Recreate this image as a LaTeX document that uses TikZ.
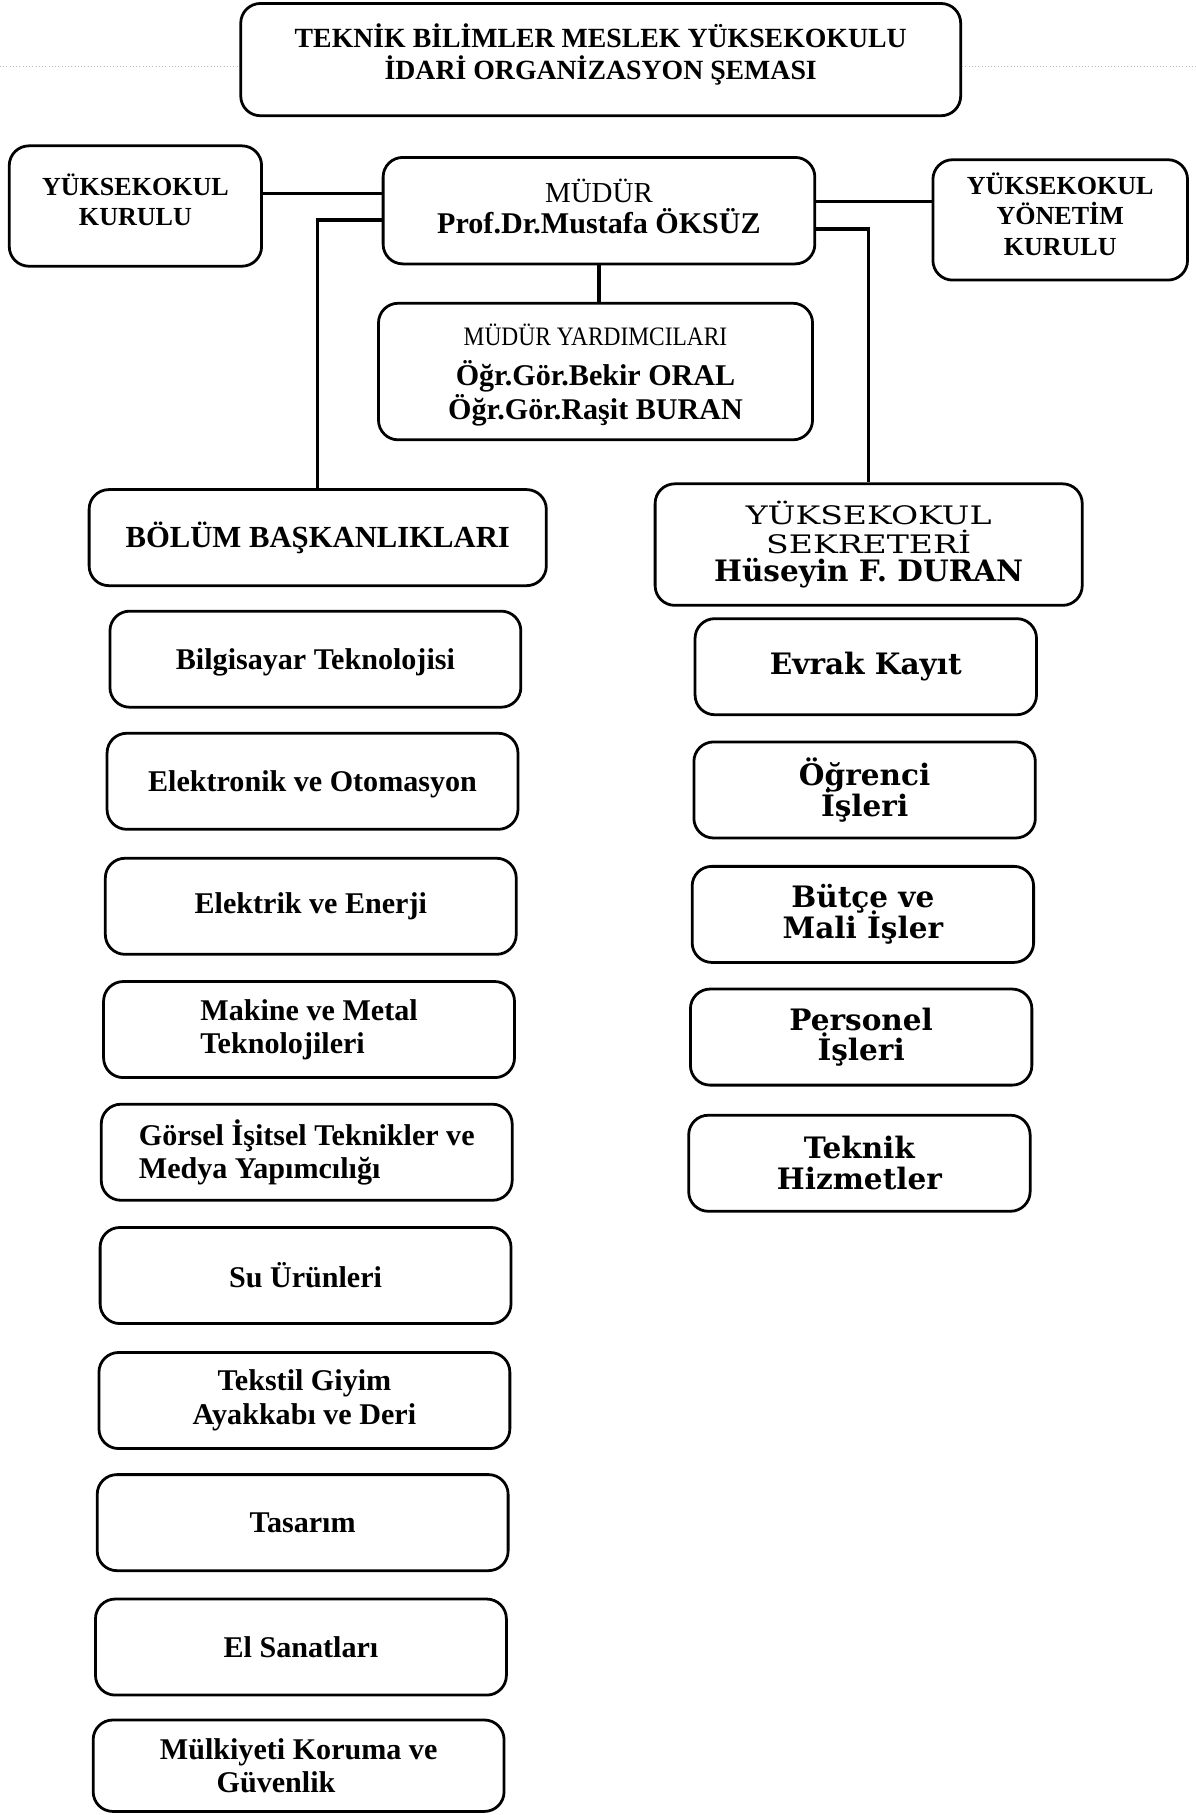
\documentclass[tikz,border=0pt]{standalone}
\usepackage{fontspec}
\setmainfont{Liberation Serif}
\newfontfamily\widefont{DejaVu Serif}
\newfontfamily\widestretch[FakeStretch=1.3]{DejaVu Serif}
\newfontfamily\narrowfont[FakeStretch=0.88]{Liberation Serif}
\newcommand\tightlines{\lineskiplimit=-20pt\relax\lineskip=0pt\relax}
\begin{document}
\begin{tikzpicture}[x=1pt,y=-1pt,
  box/.style={draw, line width=2.4pt, rounded corners=17pt, inner sep=0pt, align=center},
  lbox/.style={box, minimum width=355pt, minimum height=83pt,
     font=\bfseries\fontsize{26}{29}\selectfont},
  rbox/.style={box, minimum width=295pt, minimum height=83pt,
     font=\widefont\bfseries\fontsize{25.5}{26.5}\selectfont\tightlines},
  conn/.style={line width=3pt},
  artifact/.style={gray!55, dotted, line width=0.8pt}]
\useasboundingbox (0,0) rectangle (1033.3,1568.1);

% top level
\node[box, minimum width=622pt, minimum height=97pt, text depth=14pt,
  font=\bfseries\fontsize{24}{27}\selectfont] (title) at (519,51.5)
  {TEKNİK BİLİMLER MESLEK YÜKSEKOKULU\\İDARİ ORGANİZASYON ŞEMASI};
\node[box, minimum width=218pt, minimum height=104pt, text depth=11pt,
  font=\bfseries\fontsize{22.5}{26}\selectfont] (kurulu) at (117,178)
  {YÜKSEKOKUL\\KURULU};
\node[box, minimum width=373pt, minimum height=92pt, text depth=7pt,
  font=\bfseries\fontsize{26}{27}\selectfont] (mudur) at (517.5,182)
  {{\mdseries\fontsize{25}{27}\selectfont MÜDÜR}\\Prof.Dr.Mustafa ÖKSÜZ};
\node[box, minimum width=220pt, minimum height=104pt, text depth=10pt,
  font=\bfseries\fontsize{22.5}{26}\selectfont] (yyk) at (916,190)
  {YÜKSEKOKUL\\YÖNETİM\\KURULU};
\node[box, minimum width=375pt, minimum height=118pt, text depth=0pt,
  font=\bfseries\fontsize{26}{29}\selectfont] (yard) at (514.5,321)
  {{\narrowfont\mdseries\fontsize{23}{28}\selectfont MÜDÜR YARDIMCILARI}\\[6pt]
   Öğr.Gör.Bekir ORAL\\Öğr.Gör.Raşit BURAN};
\node[box, minimum width=395pt, minimum height=83pt,
  font=\bfseries\fontsize{26.5}{29}\selectfont] (bolum) at (274.5,464.5)
  {BÖLÜM BAŞKANLIKLARI};
\node[box, minimum width=369pt, minimum height=105pt,
  font=\widestretch\fontsize{22}{25}\selectfont] (sekr) at (750.5,470.5)
  {YÜKSEKOKUL\\SEKRETERİ\\{\widefont\bfseries\fontsize{25.5}{25}\selectfont Hüseyin F. DURAN}};

% connectors
\draw[conn] (kurulu.east |- 0,167) -- (mudur.west |- 0,167);
\draw[conn] (mudur.east |- 0,174) -- (yyk.west |- 0,174);
\draw[conn] (mudur.south) -- (mudur.south |- yard.north);
\draw[conn] (mudur.west |- 0,190) -| (bolum.north);
\draw[conn] (mudur.east |- 0,198) -| (sekr.north);

% left column
\node[lbox, text depth=0pt] (b1) at (272.5,569.5) {Bilgisayar Teknolojisi};
\node[lbox, text depth=0pt] (b2) at (270,675) {Elektronik ve Otomasyon};
\node[lbox] (b3) at (268.5,783) {Elektrik ve Enerji};
\node[lbox, align=left] (b4) at (267,889.5) {Makine ve Metal\\Teknolojileri};
\node[lbox, align=left] (b5) at (265,995.5) {Görsel İşitsel Teknikler ve\\Medya Yapımcılığı};
\node[lbox] (b6) at (264,1102) {Su Ürünleri};
\node[lbox] (b7) at (263,1210) {Tekstil Giyim\\Ayakkabı ve Deri};
\node[lbox] (b8) at (261.5,1315.5) {Tasarım};
\node[lbox] (b9) at (260,1423) {El Sanatları};
\node[lbox, minimum height=79pt] (b10) at (258,1525.5) {Mülkiyeti Koruma ve\\Güvenlik\hspace*{39pt}};

% right column
\node[rbox] (r1) at (748,576) {Evrak Kayıt};
\node[rbox] (r2) at (747,682.5) {Öğrenci\\İşleri};
\node[rbox] (r3) at (745.5,790) {Bütçe ve\\Mali İşler};
\node[rbox] (r4) at (744,896) {Personel\\İşleri};
\node[rbox] (r5) at (742.5,1005) {Teknik\\Hizmetler};

% scanner line
\draw[artifact] (0,57) -- (title.west |- 0,57);
\draw[artifact] (title.east |- 0,57) -- (1033.3,57);
\end{tikzpicture}
\end{document}
